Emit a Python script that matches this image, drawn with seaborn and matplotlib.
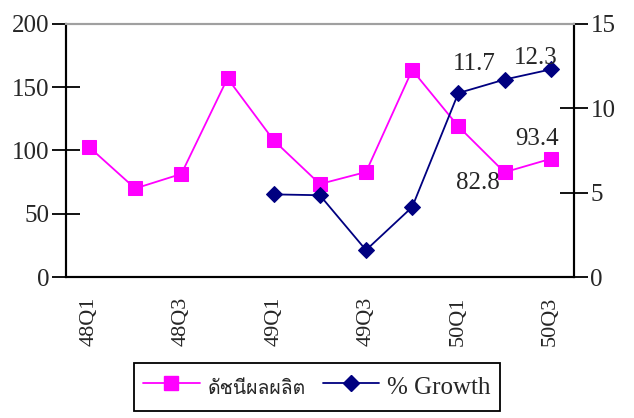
import matplotlib
matplotlib.use("Agg")
import matplotlib.pyplot as plt
from matplotlib import font_manager
from matplotlib.ft2font import FT2Font
from matplotlib.lines import Line2D
import numpy as np
import pandas as pd
import seaborn as sns

# Quarterly data (Thai fiscal years 2548-2550)
quarters = ["48Q1", "48Q2", "48Q3", "48Q4", "49Q1", "49Q2",
            "49Q3", "49Q4", "50Q1", "50Q2", "50Q3"]
index_values = [102.8, 70.0, 81.5, 157.0, 108.0, 73.5,
                83.0, 163.5, 119.0, 82.8, 93.4]
growth_values = [np.nan, np.nan, np.nan, np.nan, 4.9, 4.85,
                 1.6, 4.15, 10.9, 11.7, 12.3]
shown_ticks = ["48Q1", "48Q3", "49Q1", "49Q3", "50Q1", "50Q3"]
index_name = "ดัชนีผลผลิต"
growth_name = "% Growth"

sns.set_theme(style="white")


def find_family(char):
    for f in font_manager.fontManager.ttflist:
        try:
            if ord(char) in FT2Font(f.fname).get_charmap():
                return f.name
        except Exception:
            continue
    return "DejaVu Sans"


serif = "Liberation Serif"
thai_family = find_family("ด")
plt.rcParams["font.family"] = [serif, thai_family, "DejaVu Sans"]

df = pd.DataFrame({"pos": np.arange(len(quarters)),
                   "quarter": quarters,
                   "index": index_values,
                   "growth": growth_values})

PINK = "#FF00FF"
NAVY = "#000080"
FS = 18

fig = plt.figure(figsize=(6.34, 4.18), dpi=100)
ax = fig.add_axes([0.104, 0.337, 0.801, 0.606])
ax2 = ax.twinx()

sns.lineplot(data=df, x="pos", y="index", ax=ax, color=PINK, marker="s",
             markersize=10, markeredgecolor=PINK, linewidth=1.3)
sns.lineplot(data=df.dropna(), x="pos", y="growth", ax=ax2, color=NAVY,
             marker="D", markersize=8, markeredgecolor=NAVY, linewidth=1.3)

n = len(quarters)
ax.set_xlim(-0.5, n - 0.5)
ax.set_ylim(0, 200)
ax2.set_ylim(0, 15)
ax.set_yticks([0, 50, 100, 150, 200])
ax2.set_yticks([0, 5, 10, 15])
ax.set_xticks(np.arange(n + 1) - 0.5)
ax.set_xticklabels([])
ax.set_xticks([quarters.index(q) for q in shown_ticks], minor=True)
ax.set_xticklabels(shown_ticks, minor=True, rotation=90, fontsize=16,
                   family=serif)
ax.tick_params(axis="x", which="minor", length=0, pad=14)
ax.tick_params(axis="x", which="major", direction="inout", length=14,
               width=1.3, color="black")
ax.tick_params(axis="y", direction="inout", length=20, width=1.3,
               color="black", labelsize=FS, pad=2)
ax2.tick_params(axis="y", direction="inout", length=20, width=1.3,
                color="black", labelsize=FS, pad=2)
for a in (ax, ax2):
    a.set_xlabel("")
    a.set_ylabel("")
    a.grid(False)
    for s in ("left", "right", "bottom"):
        a.spines[s].set_color("black")
        a.spines[s].set_linewidth(1.5)
    a.spines["top"].set_color("#A0A0A0")
    a.spines["top"].set_linewidth(1.5)
for lab in ax.get_yticklabels() + ax2.get_yticklabels():
    lab.set_family(serif)

# value labels on the last quarters
ann = dict(fontsize=FS, family=serif, ha="center", va="center")
ax2.annotate("11.7", (9, 11.7), xytext=(-22, 11), textcoords="offset points", **ann)
ax2.annotate("12.3", (10, 12.3), xytext=(-11, 8), textcoords="offset points", **ann)
ax.annotate("93.4", (10, 93.4), xytext=(-10, 14), textcoords="offset points", **ann)
ax.annotate("82.8", (9, 82.8), xytext=(-19, -8), textcoords="offset points", **ann)

handles = [Line2D([], [], color=PINK, marker="s", markersize=10, linewidth=1.3),
           Line2D([], [], color=NAVY, marker="D", markersize=8, linewidth=1.3)]
leg = fig.legend(handles, [index_name, growth_name], loc="center",
                 bbox_to_anchor=(0.5, 0.074), ncol=2, frameon=True,
                 fancybox=False, edgecolor="black", framealpha=1,
                 handlelength=2.7, handleheight=1.8, handletextpad=0.4,
                 columnspacing=0.8, borderpad=0.45, borderaxespad=0,
                 fontsize=15)
leg.get_frame().set_linewidth(1.3)
leg.get_texts()[0].set_family([thai_family, "DejaVu Sans"])
leg.get_texts()[0].set_fontsize(14)
leg.get_texts()[1].set_family(serif)
leg.get_texts()[1].set_fontsize(FS)

fig.savefig("out.png", dpi=100)
